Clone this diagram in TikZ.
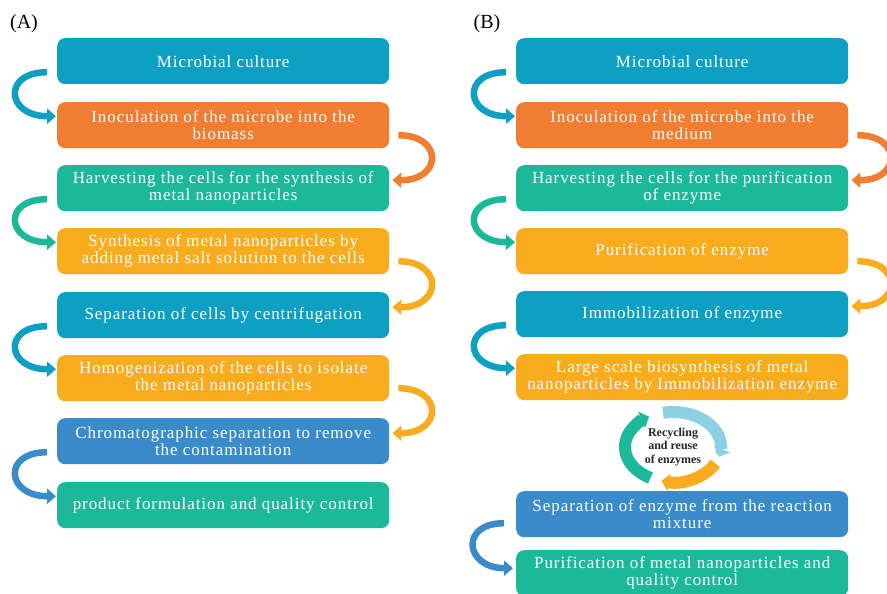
\documentclass[tikz,border=0pt]{standalone}
\usepackage{fontspec}
\setmainfont{Liberation Serif}
\newfontfamily\boxfont[LetterSpace=5.5]{Liberation Serif}
\usetikzlibrary{arrows.meta,calc}
\definecolor{cblue}{RGB}{14,160,194}
\definecolor{corange}{RGB}{240,125,50}
\definecolor{cteal}{RGB}{27,185,154}
\definecolor{cyellow}{RGB}{248,172,30}
\definecolor{cdeep}{RGB}{58,139,201}
\definecolor{clight}{RGB}{140,208,228}
\begin{document}
\begin{tikzpicture}[x=1pt,y=-1pt,
  box/.style={rounded corners=8pt, minimum width=332pt, minimum height=46pt,
    text=white, align=center, inner sep=0pt, anchor=north west,
    font=\boxfont\fontsize{17}{17}\selectfont},
  flow/.style={line width=6.5pt, -{Triangle[width=15pt,length=9pt]}},
  cyc/.style={line width=12pt, -{Triangle[width=17pt,length=8pt]}},
  panel/.style={font=\fontsize{20}{24}\selectfont, text=black}
]
\clip (0,0) rectangle (887,594);
\fill[white] (0,0) rectangle (887,594);

\node[panel] (la) at (24,24) {(A)};
\node[panel] (lb) at (487,24) {(B)};

% Panel A
\node[box, fill=cblue]   (a1) at (57,38)  {Microbial culture};
\node[box, fill=corange] (a2) at (57,102) {Inoculation of the microbe into the\\biomass};
\node[box, fill=cteal]   (a3) at (57,165) {Harvesting the cells for the synthesis of\\metal nanoparticles};
\node[box, fill=cyellow] (a4) at (57,228) {Synthesis of metal nanoparticles by\\adding metal salt solution to the cells};
\node[box, fill=cblue]   (a5) at (57,292) {Separation of cells by centrifugation};
\node[box, fill=cyellow] (a6) at (57,355) {Homogenization of the cells to isolate\\the metal nanoparticles};
\node[box, fill=cdeep]   (a7) at (57,418) {Chromatographic separation to remove\\the contamination};
\node[box, fill=cteal]   (a8) at (57,482) {product formulation and quality control};

% Panel B
\node[box, fill=cblue]   (b1) at (516,38)  {Microbial culture};
\node[box, fill=corange] (b2) at (516,102) {Inoculation of the microbe into the\\medium};
\node[box, fill=cteal]   (b3) at (516,165) {Harvesting the cells for the purification\\of enzyme};
\node[box, fill=cyellow] (b4) at (516,228) {Purification of enzyme};
\node[box, fill=cblue]   (b5) at (516,291) {Immobilization of enzyme};
\node[box, fill=cyellow] (b6) at (516,354) {Large scale biosynthesis of metal\\nanoparticles by Immobilization enzyme};
\node[box, fill=cdeep]   (b7) at (516,491) {Separation of enzyme from the reaction\\mixture};
\node[box, fill=cteal]   (b8) at (516,550) {Purification of metal nanoparticles and\\quality control};

% left arrows
\foreach \u/\v/\c in {a1/a2/cblue, a3/a4/cteal, a5/a6/cblue, a7/a8/cdeep,
                      b1/b2/cblue, b3/b4/cteal, b5/b6/cblue}
  \draw[flow, \c] ($(\u.west)+(-10,11)$) .. controls +(-45,0) and +(-50,0) .. ($(\v.west)+(-1,-9)$);
\draw[flow, cdeep] ($(b7.west)+(-12,9)$) .. controls +(-45,0) and +(-48,0) .. ($(b8.west)+(-3,-5)$);

% right arrows
\foreach \u/\v/\c in {a2/a3/corange, a4/a5/cyellow, a6/a7/cyellow,
                      b2/b3/corange, b4/b5/cyellow}
  \draw[flow, \c] ($(\u.east)+(9,10)$) .. controls +(45,0) and +(50,0) .. ($(\v.east)+(3,-8)$);

% recycling cycle
\node[align=center, font=\fontsize{12}{13.5}\selectfont\bfseries, text=black!85] (c) at (673,447)
  {Recycling\\and reuse\\of enzymes};
\draw[cyc, cteal]   ($(c)+(118:48 and 35)$) arc[start angle=118, end angle=240, x radius=48, y radius=35];
\draw[cyc, clight]  ($(c)+(258:48 and 35)$) arc[start angle=258, end angle=376, x radius=48, y radius=35];
\draw[cyc, cyellow] ($(c)+(28:48 and 35)$)  arc[start angle=28, end angle=104, x radius=48, y radius=35];
\end{tikzpicture}
\end{document}
